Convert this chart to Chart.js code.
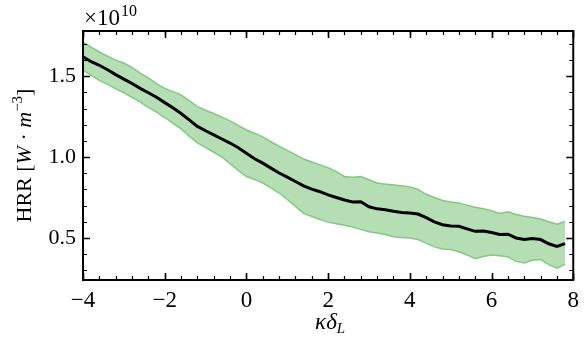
<!DOCTYPE html>
<html>
<head>
<meta charset="utf-8">
<script src="https://cdn.jsdelivr.net/npm/chart.js@4.4.1/dist/chart.umd.min.js"></script>
<style>
  html, body { margin: 0; padding: 0; background: #ffffff; }
  #wrap { width: 586px; height: 341px; }
</style>
</head>
<body>
<div id="wrap"><canvas id="hrrChart" width="586" height="341"></canvas></div>
<script>
// kappa * delta_L samples
const kappaDelta = [
  -4.0, -3.8, -3.6, -3.4, -3.2, -3.0, -2.8, -2.6, -2.4, -2.2,
  -2.0, -1.8, -1.6, -1.4, -1.2, -1.0, -0.8, -0.6, -0.4, -0.2,
   0.0,  0.2,  0.4,  0.6,  0.8,  1.0,  1.2,  1.4,  1.6,  1.8,
   2.0,  2.2,  2.4,  2.6,  2.8,  3.0,  3.2,  3.4,  3.6,  3.8,
   4.0,  4.2,  4.4,  4.6,  4.8,  5.0,  5.2,  5.4,  5.6,  5.8,
   6.0,  6.2,  6.4,  6.6,  6.8,  7.0,  7.2,  7.4,  7.6,  7.8
];

// HRR mean (x1e10)
const hrrMean = [
  1.620, 1.590, 1.568, 1.540, 1.510, 1.482, 1.455, 1.425, 1.398, 1.370,
  1.337, 1.305, 1.270, 1.230, 1.190, 1.163, 1.138, 1.112, 1.087, 1.058,
  1.024, 0.990, 0.963, 0.932, 0.902, 0.876, 0.849, 0.822, 0.802, 0.786,
  0.766, 0.750, 0.735, 0.722, 0.724, 0.693, 0.680, 0.674, 0.665, 0.658,
  0.655, 0.648, 0.626, 0.600, 0.582, 0.574, 0.572, 0.556, 0.541, 0.543,
  0.534, 0.522, 0.523, 0.500, 0.490, 0.496, 0.490, 0.464, 0.447, 0.465
];

// upper edge of the band
const hrrUpper = [
  1.712, 1.680, 1.650, 1.625, 1.600, 1.582, 1.555, 1.520, 1.490, 1.455,
  1.425, 1.405, 1.385, 1.350, 1.312, 1.290, 1.270, 1.247, 1.224, 1.196,
  1.168, 1.148, 1.125, 1.095, 1.068, 1.042, 1.015, 0.988, 0.970, 0.952,
  0.935, 0.910, 0.880, 0.875, 0.880, 0.860, 0.840, 0.833, 0.828, 0.823,
  0.816, 0.800, 0.770, 0.750, 0.732, 0.722, 0.716, 0.703, 0.690, 0.680,
  0.668, 0.652, 0.662, 0.645, 0.634, 0.626, 0.617, 0.600, 0.585, 0.602
];

// lower edge of the band
const hrrLower = [
  1.537, 1.505, 1.475, 1.450, 1.422, 1.398, 1.370, 1.340, 1.308, 1.278,
  1.245, 1.210, 1.175, 1.130, 1.088, 1.060, 1.030, 1.000, 0.960, 0.918,
  0.880, 0.862, 0.840, 0.810, 0.778, 0.738, 0.695, 0.652, 0.633, 0.614,
  0.598, 0.588, 0.578, 0.568, 0.553, 0.539, 0.530, 0.521, 0.508, 0.503,
  0.500, 0.490, 0.468, 0.445, 0.432, 0.428, 0.415, 0.395, 0.372, 0.385,
  0.395, 0.390, 0.383, 0.355, 0.345, 0.362, 0.366, 0.335, 0.313, 0.337
];

const xTicks = [-4, -2, 0, 2, 4, 6, 8];
const yTicks = [0.5, 1.0, 1.5];

const pts = arr => arr.map((v, i) => ({ x: kappaDelta[i], y: v }));
const SERIF = '"Liberation Serif", "Times New Roman", serif';

// inward ticks on all four sides, frame, titles and offset text
const mplAxes = {
  id: 'mplAxes',
  afterDraw(chart) {
    const { ctx, chartArea: a, scales: { x, y } } = chart;
    ctx.save();
    ctx.strokeStyle = '#000';

    // minor ticks
    ctx.lineWidth = 1.2;
    ctx.beginPath();
    for (let v = -4; v <= 8.001; v += 0.4) {
      const px = Math.round(x.getPixelForValue(v)) + 0.5;
      ctx.moveTo(px, a.bottom); ctx.lineTo(px, a.bottom - 4);
      ctx.moveTo(px, a.top); ctx.lineTo(px, a.top + 4);
    }
    for (let v = 0.3; v <= 1.75; v += 0.1) {
      const py = Math.round(y.getPixelForValue(v)) + 0.5;
      ctx.moveTo(a.left, py); ctx.lineTo(a.left + 4, py);
      ctx.moveTo(a.right, py); ctx.lineTo(a.right - 4, py);
    }
    ctx.stroke();

    // major ticks
    ctx.lineWidth = 1.6;
    ctx.beginPath();
    xTicks.forEach(v => {
      const px = Math.round(x.getPixelForValue(v)) + 0.5;
      ctx.moveTo(px, a.bottom); ctx.lineTo(px, a.bottom - 7);
      ctx.moveTo(px, a.top); ctx.lineTo(px, a.top + 7);
    });
    yTicks.forEach(v => {
      const py = Math.round(y.getPixelForValue(v)) + 0.5;
      ctx.moveTo(a.left, py); ctx.lineTo(a.left + 7, py);
      ctx.moveTo(a.right, py); ctx.lineTo(a.right - 7, py);
    });
    ctx.stroke();

    // frame
    ctx.lineWidth = 2;
    ctx.strokeRect(a.left, a.top, a.right - a.left, a.bottom - a.top);

    ctx.fillStyle = '#000';
    ctx.textBaseline = 'alphabetic';

    // offset text
    ctx.textAlign = 'left';
    ctx.font = '23px ' + SERIF;
    ctx.fillText('\u00d710', 84, 25);
    const wOff = ctx.measureText('\u00d710').width;
    ctx.font = '16px ' + SERIF;
    ctx.fillText('10', 84 + wOff + 1, 16);

    // x title: kappa delta_L
    const cx = (a.left + a.right) / 2;
    ctx.font = 'italic 23px ' + SERIF;
    const main = '\u03ba\u03b4';
    const wMain = ctx.measureText(main).width;
    ctx.font = 'italic 15px ' + SERIF;
    const wSub = ctx.measureText('L').width;
    const x0 = cx - (wMain + wSub) / 2 + 2;
    ctx.font = 'italic 23px ' + SERIF;
    ctx.fillText(main, x0, 329);
    ctx.font = 'italic 15px ' + SERIF;
    ctx.fillText('L', x0 + wMain, 333);

    // y title: HRR [W . m^-3]
    ctx.translate(31, (a.top + a.bottom) / 2);
    ctx.rotate(-Math.PI / 2);
    const parts = [
      ['22px', 'HRR [', 0],
      ['italic 22px', 'W', 0],
      ['22px', ' \u00b7 ', 0],
      ['italic 22px', 'm', 0],
      ['15px', '\u22123', -9],
      ['22px', ']', 0]
    ];
    let total = 0;
    parts.forEach(p => { ctx.font = p[0] + ' ' + SERIF; total += ctx.measureText(p[1]).width; });
    let cur = -total / 2;
    parts.forEach(p => {
      ctx.font = p[0] + ' ' + SERIF;
      ctx.fillText(p[1], cur, p[2]);
      cur += ctx.measureText(p[1]).width;
    });
    ctx.restore();
  }
};

new Chart(document.getElementById('hrrChart'), {
  type: 'line',
  data: {
    datasets: [
      {
        label: 'lower',
        data: pts(hrrLower),
        borderColor: 'rgba(110, 190, 110, 0.8)',
        borderWidth: 1.5,
        pointRadius: 0,
        fill: false,
        order: 3
      },
      {
        label: 'upper',
        data: pts(hrrUpper),
        borderColor: 'rgba(110, 190, 110, 0.8)',
        borderWidth: 1.5,
        backgroundColor: 'rgba(120, 195, 120, 0.55)',
        pointRadius: 0,
        fill: '-1',
        order: 2
      },
      {
        label: 'mean',
        data: pts(hrrMean),
        borderColor: '#000000',
        borderWidth: 3,
        pointRadius: 0,
        fill: false,
        order: 1
      }
    ]
  },
  options: {
    responsive: false,
    animation: false,
    devicePixelRatio: 1,
    layout: { padding: { left: 0, right: 6, top: 31, bottom: 0 } },
    plugins: {
      legend: { display: false },
      tooltip: { enabled: false }
    },
    scales: {
      x: {
        type: 'linear',
        min: -4,
        max: 8,
        grid: { display: false, drawTicks: false },
        border: { display: false },
        afterBuildTicks: s => { s.ticks = xTicks.map(v => ({ value: v })); },
        afterFit: s => { s.height = 61; },
        ticks: {
          color: '#000',
          padding: 7,
          maxRotation: 0,
          font: { family: SERIF, size: 23 },
          callback: v => String(v).replace('-', '\u2212')
        }
      },
      y: {
        min: 0.24,
        max: 1.78,
        grid: { display: false, drawTicks: false },
        border: { display: false },
        afterBuildTicks: s => { s.ticks = yTicks.map(v => ({ value: v })); },
        afterFit: s => { s.width = 83; },
        ticks: {
          color: '#000',
          padding: 7,
          font: { family: SERIF, size: 22 },
          callback: v => Number(v).toFixed(1)
        }
      }
    }
  },
  plugins: [mplAxes]
});
</script>
</body>
</html>
